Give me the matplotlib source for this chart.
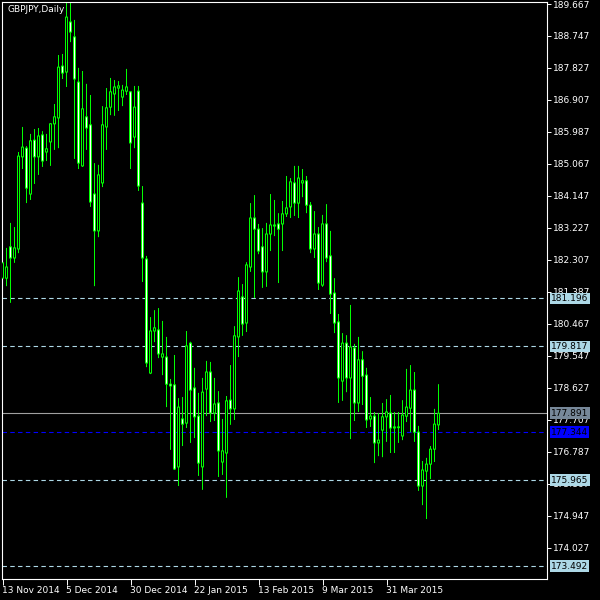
import numpy as np
import matplotlib.pyplot as plt
from matplotlib.patches import Rectangle

# GBPJPY daily candles, 13 Nov 2014 .. mid Apr 2015
opens = [181.78, 181.78, 182.68, 182.36, 182.62, 185.27, 185.52, 184.20, 185.75, 185.27,
         185.90, 185.41, 185.70, 186.22, 186.39, 187.88, 187.71, 189.15, 188.72, 187.42,
         185.01, 186.42, 186.19, 184.20, 183.14, 184.52, 186.13, 186.70, 187.08, 187.25,
         186.99, 187.16, 187.14, 185.84, 187.16, 183.94, 182.33, 179.05, 180.26, 180.29,
         179.51, 179.51, 178.73, 178.71, 176.35, 177.73, 177.61, 179.91, 178.62, 177.81,
         176.35, 178.59, 179.08, 177.90, 178.19, 176.49, 176.75, 178.27, 178.02, 180.09,
         181.24, 180.49, 182.10, 183.51, 183.19, 182.68, 181.96, 183.05, 183.28, 183.34,
         183.34, 183.63, 183.83, 184.52, 183.94, 184.52, 184.58, 183.88, 182.62, 183.05,
         181.58, 183.34, 182.42, 181.35, 180.52, 178.82, 179.91, 178.91, 179.77, 178.19,
         179.43, 178.99, 177.73, 177.81, 177.04, 177.41, 177.79, 177.90, 177.47, 177.48,
         177.24, 177.81, 178.04, 178.56, 177.35, 175.80, 176.23, 176.43, 176.86, 177.56]
highs = [182.36, 182.65, 183.37, 183.25, 185.41, 186.13, 185.58, 185.93, 186.07, 186.10,
         186.01, 185.93, 186.24, 186.79, 188.20, 188.23, 189.70, 189.70, 189.21, 187.83,
         187.74, 187.37, 187.05, 185.09, 185.04, 186.73, 187.25, 187.54, 187.48, 187.45,
         187.34, 187.80, 187.16, 187.31, 187.31, 184.43, 182.42, 180.66, 180.86, 180.92,
         180.55, 180.09, 178.88, 179.57, 178.33, 178.36, 180.26, 179.95, 179.20, 178.48,
         178.91, 179.40, 179.37, 178.91, 178.53, 177.73, 178.39, 179.28, 180.40, 181.81,
         181.61, 182.24, 183.94, 184.17, 183.34, 183.22, 183.37, 184.20, 184.03, 183.65,
         184.00, 184.72, 184.66, 185.01, 185.01, 184.92, 184.72, 183.97, 183.71, 183.25,
         183.60, 183.91, 183.14, 181.78, 180.75, 180.20, 180.14, 181.01, 179.89, 180.09,
         179.68, 179.20, 178.36, 177.93, 177.90, 178.19, 178.30, 178.42, 177.93, 177.93,
         178.27, 179.17, 179.28, 179.08, 177.53, 176.52, 176.61, 176.95, 178.02, 178.73]
lows = [181.67, 181.55, 181.07, 182.22, 182.50, 184.92, 183.94, 184.03, 184.49, 184.75,
        184.98, 185.15, 185.01, 185.47, 185.52, 187.51, 187.28, 188.57, 185.21, 184.92,
        184.98, 185.47, 183.83, 181.55, 182.96, 184.40, 185.47, 186.47, 186.45, 186.59,
        186.73, 187.05, 184.92, 185.52, 184.29, 181.67, 179.22, 179.02, 179.94, 179.48,
        178.99, 178.07, 176.84, 176.26, 175.80, 176.95, 177.47, 177.04, 177.18, 176.09,
        175.69, 177.81, 177.64, 177.67, 176.06, 176.12, 175.46, 177.56, 177.70, 179.51,
        180.12, 180.23, 181.96, 181.21, 182.47, 181.50, 181.53, 182.56, 182.99, 181.64,
        182.56, 183.54, 183.51, 183.57, 183.51, 184.11, 183.65, 182.50, 182.36, 181.44,
        181.53, 182.24, 180.75, 180.20, 178.19, 178.25, 178.50, 177.15, 177.67, 177.93,
        178.13, 177.47, 177.50, 176.46, 176.66, 176.63, 177.07, 176.75, 176.75, 177.04,
        177.12, 177.64, 177.35, 177.07, 175.66, 175.25, 174.85, 176.00, 176.49, 177.41]
closes = [182.22, 182.10, 182.36, 182.65, 185.29, 185.55, 184.37, 185.73, 185.27, 185.87,
          185.15, 185.50, 186.22, 186.42, 187.85, 187.68, 189.29, 188.86, 187.51, 185.09,
          186.65, 186.10, 183.97, 183.14, 184.75, 186.19, 186.68, 187.14, 187.28, 187.31,
          187.19, 187.28, 185.67, 186.70, 184.43, 182.36, 179.34, 180.26, 180.35, 179.60,
          179.60, 178.73, 178.68, 176.29, 178.07, 177.58, 179.83, 178.56, 177.79, 176.46,
          178.50, 179.08, 177.90, 178.16, 176.81, 176.81, 178.25, 178.02, 180.12, 181.41,
          180.46, 182.16, 183.51, 183.19, 182.56, 181.96, 183.05, 183.31, 183.31, 183.19,
          183.63, 183.80, 184.55, 183.94, 184.66, 184.58, 183.88, 182.62, 183.05, 181.64,
          183.34, 182.36, 181.32, 180.49, 178.91, 179.91, 178.91, 179.80, 178.19, 179.43,
          178.96, 177.70, 177.81, 177.04, 177.12, 177.79, 177.93, 177.47, 177.50, 177.50,
          177.84, 178.07, 178.56, 177.35, 175.80, 176.26, 176.43, 176.86, 177.58, 177.891]

date_pos = [0, 16, 32, 48, 64, 80, 96]
date_labels = ["13 Nov 2014", "5 Dec 2014", "30 Dec 2014", "22 Jan 2015",
               "13 Feb 2015", "9 Mar 2015", "31 Mar 2015"]
price_ticks = [189.667, 188.747, 187.827, 186.907, 185.987, 185.067, 184.147, 183.227, 182.307,
               181.387, 180.467, 179.547, 178.627, 177.707, 176.787, 175.867, 174.947, 174.027]
levels = [181.196, 179.817, 175.965, 173.492]
blue_level = 177.344
last_price = 177.891

green = "#00ff00"

fig = plt.figure(figsize=(6, 6), dpi=100, facecolor="black")
ax = fig.add_axes([2 / 600, 21 / 600, 545 / 600, 577 / 600], facecolor="black")

ymin, ymax = 173.125, 189.725
px_y = (ymax - ymin) / 577  # one pixel in price units

x = np.arange(len(opens))
ax.vlines(x, lows, highs, color=green, lw=0.72, snap=False, zorder=2)
for i in range(len(opens)):
    o, c = opens[i], closes[i]
    lo, hi = min(o, c), max(o, c)
    # green outline: 3 px wide block, then 1 px inner fill
    ax.add_patch(Rectangle((i - 0.375, lo - px_y / 2), 0.75, hi - lo + px_y,
                           facecolor=green, lw=0, snap=False, zorder=3))
    if hi - lo > 1.5 * px_y:
        fc = "white" if c < o else "black"
        ax.add_patch(Rectangle((i - 0.125, lo + px_y / 2), 0.25, hi - lo - px_y,
                               facecolor=fc, lw=0, snap=False, zorder=4))

for lv in levels:
    ax.axhline(lv, color="#add8e6", lw=0.8, dashes=(4, 3), zorder=1)
ax.axhline(blue_level, color="#0000ff", lw=0.8, dashes=(4, 3), zorder=1)
ax.axhline(last_price, color="#a0a0a0", lw=0.8, zorder=1)

ax.set_xlim(-0.125, -0.125 + 545 / 4)
ax.set_ylim(ymin, ymax)

for s in ax.spines.values():
    s.set_color("white")
    s.set_linewidth(0.8)

ax.yaxis.tick_right()
ax.set_yticks(price_ticks)
ax.set_yticklabels(["%.3f" % t for t in price_ticks])
ax.tick_params(axis="y", colors="white", length=3, width=0.7, pad=1, labelsize=6.5)
ax.set_xticks(date_pos)
ax.set_xticklabels(date_labels, ha="left")
ax.tick_params(axis="x", colors="white", length=4, width=0.7, pad=1, labelsize=6.5)

tr = ax.get_yaxis_transform()
for lv in levels:
    ax.text(1.0073, lv, "%.3f" % lv, transform=tr, fontsize=6.5, color="black", va="center",
            ha="left", clip_on=False, zorder=5,
            bbox=dict(boxstyle="square,pad=0.15", fc="#add8e6", ec="none"))
ax.text(1.0073, last_price, "%.3f" % last_price, transform=tr, fontsize=6.5, color="black",
        va="center", ha="left", clip_on=False, zorder=5,
        bbox=dict(boxstyle="square,pad=0.15", fc="#778899", ec="none"))
ax.text(1.0073, blue_level, "%.3f" % blue_level, transform=tr, fontsize=6.5, color="black",
        va="center", ha="left", clip_on=False, zorder=5,
        bbox=dict(boxstyle="square,pad=0.15", fc="#0000ff", ec="none"))

ax.text(5 / 545, 1 - 8 / 577, "GBPJPY,Daily", transform=ax.transAxes, fontsize=6.5,
        color="white", va="center", ha="left")

fig.savefig("out.png", dpi=100, facecolor="black")
